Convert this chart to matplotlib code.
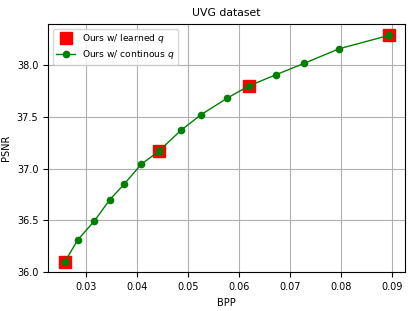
import matplotlib
matplotlib.use('Agg')
import matplotlib.pyplot as plt

# continuous q sweep
bpp_cont = [0.0259, 0.0284, 0.0316, 0.0347, 0.0375, 0.0408, 0.0443, 0.0486,
            0.0525, 0.0576, 0.0619, 0.0673, 0.0728, 0.0796, 0.0894]
psnr_cont = [36.10, 36.31, 36.49, 36.70, 36.85, 37.04, 37.17, 37.37,
             37.52, 37.68, 37.80, 37.91, 38.02, 38.16, 38.29]

# learned q
bpp_learned = [0.0259, 0.0443, 0.0619, 0.0894]
psnr_learned = [36.10, 37.17, 37.80, 38.29]

plt.rcParams['font.size'] = 7

fig = plt.figure(figsize=(4.15, 3.11), dpi=100)
ax = fig.add_axes([0.116, 0.124, 0.86, 0.799])

ax.plot(bpp_learned, psnr_learned, 's', color='red', markersize=8,
        label='Ours w/ learned $q$')
ax.plot(bpp_cont, psnr_cont, '-o', color='green', markersize=4.5,
        linewidth=1, label='Ours w/ continous $q$')

ax.set_xlim(0.0226, 0.0925)
ax.set_ylim(35.995, 38.40)
ax.set_xticks([0.03, 0.04, 0.05, 0.06, 0.07, 0.08, 0.09])
ax.set_yticks([36.0, 36.5, 37.0, 37.5, 38.0])
ax.grid(True)
ax.set_xlabel('BPP')
ax.set_ylabel('PSNR')
ax.set_title('UVG dataset', fontsize=7.8)
ax.legend(loc='upper left', fontsize=6.6, labelspacing=0.3)

fig.savefig('out.png', dpi=100)
